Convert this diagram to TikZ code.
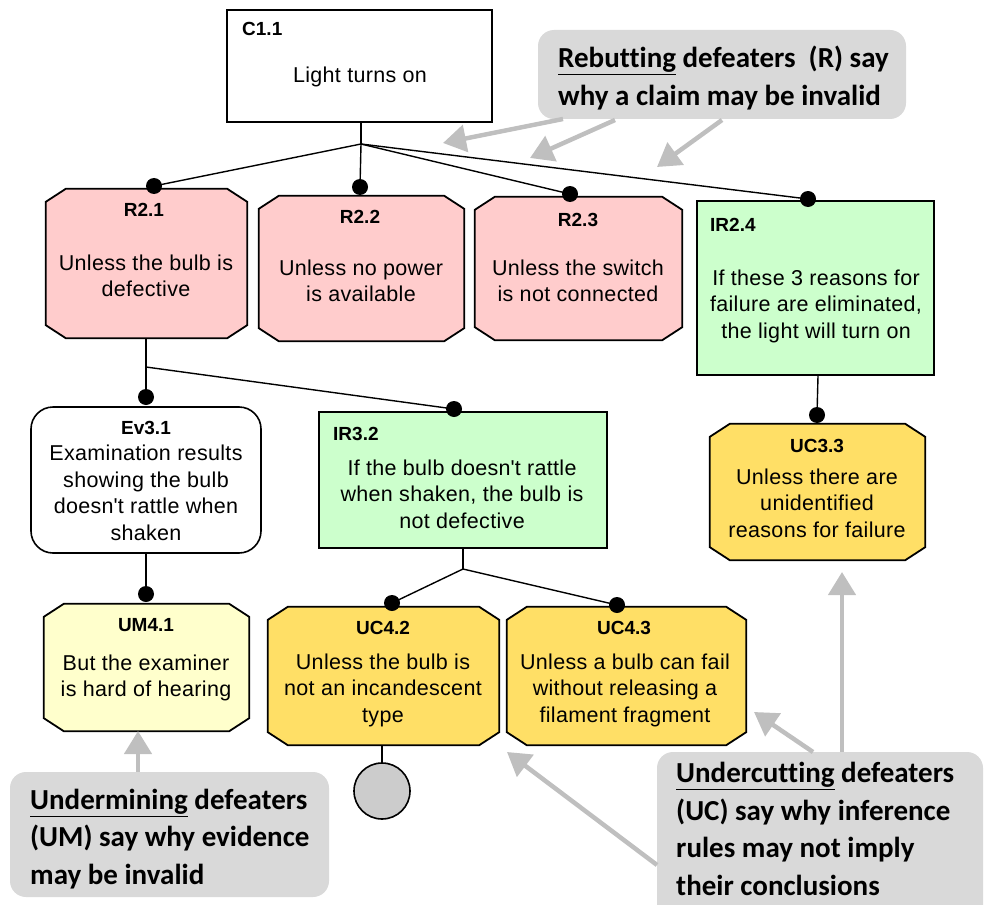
\documentclass[tikz,border=0pt]{standalone}
\usepackage{fontspec}
\setmainfont{Liberation Sans}
\newfontfamily\bodyfont{Liberation Sans}[LetterSpace=1.5]
\newfontfamily\calfont{Carlito}[Ligatures=NoCommon]
\usetikzlibrary{arrows.meta}
\definecolor{pinkf}{HTML}{FFCCCC}
\definecolor{greenf}{HTML}{CCFFCC}
\definecolor{goldf}{HTML}{FFDF66}
\definecolor{lyell}{HTML}{FFFFCC}
\definecolor{callg}{HTML}{D9D9D9}
\definecolor{arrg}{HTML}{BFBFBF}
\definecolor{circg}{HTML}{CCCCCC}
\tikzset{
 area/.style={draw=none, inner sep=0},
 rectbox/.style={draw, line width=1.6pt, inner sep=0},
 octline/.style={draw, line width=1.8pt, line join=miter},
 lbl/.style={font=\bfseries\fontsize{19}{22}\selectfont, inner sep=0},
 body/.style={font=\bodyfont\fontsize{21.5}{26.5}\selectfont, align=center, inner sep=0},
 conn/.style={line width=1.4pt},
 dot/.style={circle, fill=black, inner sep=0, minimum size=16pt},
 callout/.style={fill=callg, rounded corners=16pt, inner sep=0},
 calltext/.style={font=\calfont\bfseries\fontsize{29}{37.5}\selectfont, align=left, inner sep=0, anchor=west},
 garrow/.style={draw=arrg, line width=4.5pt, -{Triangle[length=23pt,width=27pt]}},
}
\newcommand\octagon[2]{%
  \draw[octline, fill=#2] ([xshift=20pt]#1.north west) -- ([xshift=-20pt]#1.north east) -- ([yshift=-13pt]#1.north east) -- ([yshift=13pt]#1.south east) -- ([xshift=-20pt]#1.south east) -- ([xshift=20pt]#1.south west) -- ([yshift=13pt]#1.south west) -- ([yshift=-13pt]#1.north west) -- cycle;}
\begin{document}
\begin{tikzpicture}[x=1pt,y=-1pt]
\useasboundingbox (0,0) rectangle (984,904);
\clip (0,0) rectangle (984,904);

% C1.1
\node[rectbox, fill=white, minimum width=265pt, minimum height=112pt] (c11) at (359.5,66) {};
\node[lbl, anchor=west] (c11l) at (242,29) {C1.1};
\node[body] (c11t) at (360,77) {Light turns on};

% R2.x
\node[area, minimum width=201pt, minimum height=149pt] (r21) at (146.5,263.5) {};
\octagon{r21}{pinkf}
\node[lbl] (r21l) at (144,210) {R2.1};
\node[body] (r21t) at (146,276) {Unless the bulb is\\defective};

\node[area, minimum width=205pt, minimum height=145pt] (r22) at (361.5,268.5) {};
\octagon{r22}{pinkf}
\node[lbl] (r22l) at (360,217) {R2.2};
\node[body] (r22t) at (361,281) {Unless no power\\is available};

\node[area, minimum width=207pt, minimum height=143pt] (r23) at (578.5,268.5) {};
\octagon{r23}{pinkf}
\node[lbl] (r23l) at (578,220) {R2.3};
\node[body] (r23t) at (578,281) {Unless the switch\\is not connected};

\node[rectbox, fill=greenf, minimum width=237pt, minimum height=174pt] (ir24) at (815.5,288) {};
\node[lbl, anchor=west] (ir24l) at (710,225) {IR2.4};
\node[body] (ir24t) at (816,306) {If these 3 reasons for\\failure are eliminated,\\the light will turn on};

% level 3
\node[rectbox, fill=white, rounded corners=22pt, minimum width=230pt, minimum height=146pt] (ev31) at (146,480) {};
\node[lbl] (ev31l) at (146,428) {Ev3.1};
\node[body] (ev31t) at (146,493) {Examination results\\showing the bulb\\doesn\textquotesingle t rattle when\\shaken};

\node[rectbox, fill=greenf, minimum width=288pt, minimum height=136pt] (ir32) at (463,480) {};
\node[lbl, anchor=west] (ir32l) at (333,434) {IR3.2};
\node[body] (ir32t) at (462,494) {If the bulb doesn\textquotesingle t rattle\\when shaken, the bulb is\\not defective};

\node[area, minimum width=215pt, minimum height=136pt] (uc33) at (817.5,492) {};
\octagon{uc33}{goldf}
\node[lbl] (uc33l) at (817,446) {UC3.3};
\node[body] (uc33t) at (817,503) {Unless there are\\unidentified\\reasons for failure};

% level 4
\node[area, minimum width=205pt, minimum height=127pt] (um41) at (146.5,667.5) {};
\octagon{um41}{lyell}
\node[lbl] (um41l) at (146,625) {UM4.1};
\node[body] (um41t) at (146,678) {But the examiner\\is hard of hearing};

\node[area, minimum width=231pt, minimum height=138pt] (uc42) at (383.5,676) {};
\octagon{uc42}{goldf}
\node[lbl] (uc42l) at (383,628) {UC4.2};
\node[body] (uc42t) at (383,690) {Unless the bulb is\\not an incandescent\\type};

\node[area, minimum width=239pt, minimum height=138pt] (uc43) at (626.5,676) {};
\octagon{uc43}{goldf}
\node[lbl] (uc43l) at (624,628) {UC4.3};
\node[body] (uc43t) at (625,690) {Unless a bulb can fail\\without releasing a\\filament fragment};

\node[circle, draw, line width=1.6pt, fill=circg, minimum size=56pt, inner sep=0] (circ) at (382,791) {};

% junctions
\coordinate (j1) at (361,144);
\coordinate (j2) at (146,367);
\coordinate (j3) at (463,569);

% connectors
\draw[conn] (c11.south -| j1) -- (j1);
\draw[conn] (j1) -- (154,186) node[dot] (d21) {};
\draw[conn] (j1) -- (360,187) node[dot] (d22) {};
\draw[conn] (j1) -- (570,194) node[dot] (d23) {};
\draw[conn] (j1) -- (808,199) node[dot] (d24) {};
\draw[conn] (r21.south -| j2) -- (j2) -- (146,397) node[dot] (d31) {};
\draw[conn] (j2) -- (454,409) node[dot] (d32) {};
\draw[conn] (ev31.south) -- (146,594) node[dot] (d41) {};
\draw[conn] (ir32.south -| j3) -- (j3);
\draw[conn] (j3) -- (392,603) node[dot] (d42) {};
\draw[conn] (j3) -- (617,605) node[dot] (d43) {};
\draw[conn] (ir24.south -| 818,0) -- (817,415) node[dot] (d33) {};
\draw[conn] (circ.north |- uc42.south) -- (circ.north);

% callouts
\node[callout, minimum width=368pt, minimum height=89pt] (reb) at (722,74.5) {};
\node[calltext] (rebt) at (558,78) {\underline{Rebutting} defeaters\ \ (R) say\\why a claim may be invalid};

\node[callout, minimum width=319pt, minimum height=125pt] (und) at (169.5,834.5) {};
\node[calltext] (undt) at (30,839) {\underline{Undermining} defeaters\\(UM) say why evidence\\may be invalid};

\node[callout, minimum width=326pt, minimum height=178pt] (ucb) at (820,841) {};
\node[calltext] (ucbt) at (676,829) {\underline{Undercutting} defeaters\\(UC) say why inference\\rules may not imply\\their conclusions};

% arrow coordinates
\coordinate (rt1) at (443,143);
\coordinate (rt2) at (530,158);
\coordinate (rt3) at (657,167);
\coordinate (umt) at (138,731);
\coordinate (ut1) at (842,572);
\coordinate (ut2) at (754,712);
\coordinate (ut3) at (507,752);

\draw[garrow] (563,119) -- (rt1);
\draw[garrow] (615,120) -- (rt2);
\draw[garrow] (722,120) -- (rt3);
\draw[garrow] (und.north -| umt) -- (umt);
\draw[garrow] (ucb.north -| ut1) -- (ut1);
\draw[garrow] (813,752) -- (ut2);
\draw[garrow] (657,865) -- (ut3);
\end{tikzpicture}
\end{document}
